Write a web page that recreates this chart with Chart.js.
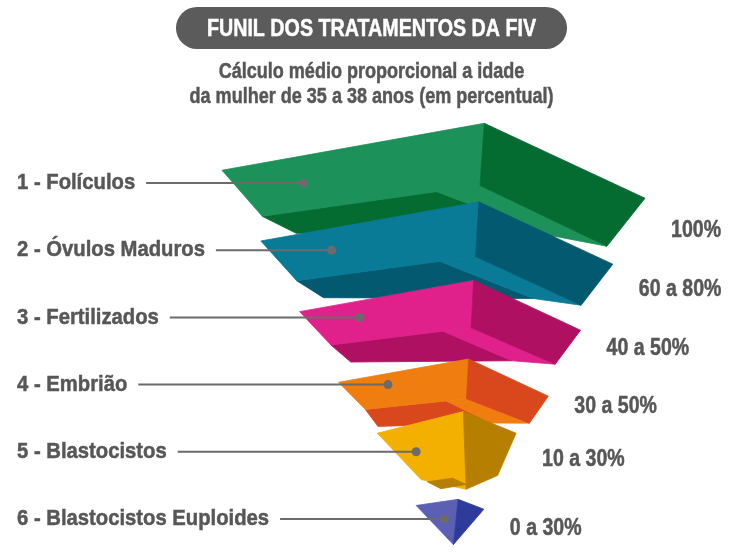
<!DOCTYPE html>
<html>
<head>
<meta charset="utf-8">
<script src="https://cdn.jsdelivr.net/npm/chart.js@4.4.1/dist/chart.umd.min.js"></script>
<style>
  html, body { margin: 0; padding: 0; background: #fff; }
  #wrap { width: 743px; height: 552px; }
</style>
</head>
<body>
<div id="wrap"><canvas id="funnelChart"></canvas></div>
<script>
// stages of the IVF funnel and the rate (in %) reached at each stage
const stages = ['1 - Folículos', '2 - Óvulos Maduros', '3 - Fertilizados', '4 - Embrião', '5 - Blastocistos', '6 - Blastocistos Euploides'];
const rateMin = [100, 60, 40, 30, 10, 0];
const rateMax = [100, 80, 50, 50, 30, 30];

const titleText = 'FUNIL DOS TRATAMENTOS DA FIV';
const subtitleLines = ['Cálculo médio proporcional a idade', 'da mulher de 35 a 38 anos (em percentual)'];

// styles
const lightColors = ['#1c9159', '#097b96', '#e0208b', '#f07d10', '#f4b000', '#5b60b4'];
const darkColors = ['#046b31', '#03596f', '#b01062', '#d9481c', '#b77f02', '#2e3b9c'];
const FONT = "'Liberation Sans', Arial, sans-serif";
const TEXT_GREY = '#575757';

// funnel shape: each tier narrower than the one above (not proportional to the rates)
const NARROW = 0.168;
const SKEW = 0.0156;
const funnelBars = stages.map((s, i) => {
    const half = 1 - NARROW * i;
    const mid = SKEW * i;
    return [mid - half, mid + half];
});

const rateLabels = rateMin.map((lo, i) => lo === rateMax[i] ? rateMax[i] + '%' : lo + ' a ' + rateMax[i] + '%');

function poly(ctx, pts, color) {
    ctx.beginPath();
    pts.forEach((p, j) => j ? ctx.lineTo(p[0], p[1]) : ctx.moveTo(p[0], p[1]));
    ctx.closePath();
    ctx.fillStyle = color;
    ctx.strokeStyle = color;
    ctx.lineWidth = 0.8;
    ctx.fill();
    ctx.stroke();
}

function lerp(a, b, t) {
    return [a[0] + (b[0] - a[0]) * t, a[1] + (b[1] - a[1]) * t];
}

// bold text squeezed horizontally (the original uses a condensed face), returns drawn width
function narrowText(ctx, text, x, y, size, squeeze, color, align) {
    ctx.save();
    ctx.font = 'bold ' + size + 'px ' + FONT;
    ctx.fillStyle = color;
    ctx.strokeStyle = color;
    ctx.lineWidth = 0.5;
    ctx.textAlign = align;
    ctx.textBaseline = 'middle';
    const w = ctx.measureText(text).width * squeeze;
    ctx.translate(x, y);
    ctx.scale(squeeze, 1);
    ctx.fillText(text, 0, 0);
    ctx.strokeText(text, 0, 0);
    ctx.restore();
    return w;
}

const headerText = {
    id: 'headerText',
    afterDraw(chart) {
        const ctx = chart.ctx;
        const cx = chart.width / 2;
        ctx.save();
        ctx.font = 'bold 24px ' + FONT;
        const w = ctx.measureText(titleText).width * 0.82 + 62;
        const h = 42;
        ctx.fillStyle = '#5b5b5b';
        ctx.beginPath();
        ctx.roundRect(cx - w / 2, 28 - h / 2, w, h, h / 2);
        ctx.fill();
        ctx.restore();
        narrowText(ctx, titleText, cx, 29, 24, 0.82, '#ffffff', 'center');
        subtitleLines.forEach((line, j) => narrowText(ctx, line, cx, 72 + j * 25, 22, 0.82, TEXT_GREY, 'center'));
    }
};

const funnel3d = {
    id: 'funnel3d',
    afterDatasetsDraw(chart) {
        const ctx = chart.ctx;
        const meta = chart.getDatasetMeta(0);
        const yScale = chart.scales.y;
        const last = meta.data.length - 1;
        ctx.save();

        meta.data.forEach((bar, i) => {
            const left = Math.min(bar.base, bar.x);
            const right = Math.max(bar.base, bar.x);
            const W = right - left;
            const light = lightColors[i], dark = darkColors[i];
            const ledge = i < last - 1;
            const k = ledge ? 0.16 * W - 8 : 0.29 * W;
            const B = [left + 0.62 * W, bar.y - k];
            let C, low;

            if (ledge) {
                const A = [left, B[1] + 0.111 * W];
                C = [right, B[1] + 0.177 * W];
                const B2 = [B[0] - 0.01 * W, B[1] + 0.105 * W + 17.7];
                const A2 = [B[0] - 0.557 * W + 13.6, B[1] + 0.2 * W + 8.4];
                const C2 = [B[0] + 0.29 * W, B[1] + 0.276 * W + 6.2];
                const m = lerp(A2, B2, 0.8);
                const bl = [B[0] - 0.457 * W + 5.3, B[1] + 0.2 * W + 25.4];
                const br = [B[0] + 0.224 * W - 24.7, B[1] + 0.229 * W + 16];
                poly(ctx, [A2, m, br, bl], dark);
                poly(ctx, [m, B2, C2, br], light);
                poly(ctx, [A, B, B2, A2], light);
                poly(ctx, [B, C, C2, B2], dark);
                low = C2;
            } else if (i < last) {
                const A = [left, B[1] + 0.156 * W];
                C = [right, B[1] + 0.156 * W];
                const Lb = [B[0] - 0.305 * W, B[1] + 0.49 * W];
                const Fb = [B[0] + 0.02 * W, B[1] + 0.56 * W];
                const Rb = [B[0] + 0.247 * W, B[1] + 0.46 * W];
                poly(ctx, [A, B, Fb, Lb], light);
                poly(ctx, [B, C, Rb, Fb], dark);
                poly(ctx, [
                    [B[0] - 0.26 * W, B[1] + 0.506 * W],
                    [B[0] - 0.078 * W, B[1] + 0.48 * W],
                    [B[0] + 0.02 * W, B[1] + 0.526 * W],
                    [B[0] - 0.162 * W, B[1] + 0.556 * W]
                ], dark);
                low = Rb;
            } else {
                const A = [left, B[1] + 0.09 * W];
                C = [right, B[1] + 0.145 * W];
                const apex = [B[0] - 0.07 * W, B[1] + 0.55 * W + 8];
                poly(ctx, [A, B, apex], light);
                poly(ctx, [B, C, apex], dark);
                low = apex;
            }

            // stage label from the category axis, leader line and dot on the tier
            const labelW = narrowText(ctx, yScale.getLabelForValue(i), 17, bar.y, 22.5, 0.9, TEXT_GREY, 'left');
            const dotX = left + 0.15 * W + 18;
            ctx.strokeStyle = '#6b6b6b';
            ctx.lineWidth = 2;
            ctx.beginPath();
            ctx.moveTo(17 + labelW + 11, bar.y);
            ctx.lineTo(dotX, bar.y);
            ctx.stroke();
            ctx.fillStyle = '#6b6b6b';
            ctx.beginPath();
            ctx.arc(dotX, bar.y, 4.5, 0, Math.PI * 2);
            ctx.fill();

            // rate label beside the right corner of the tier
            narrowText(ctx, rateLabels[i], C[0] + 26, low[1] - 16, 23, 0.85, TEXT_GREY, 'left');
        });
        ctx.restore();
    }
};

new Chart(document.getElementById('funnelChart'), {
    type: 'bar',
    data: {
        labels: stages,
        datasets: [{
            label: 'Funil',
            data: funnelBars,
            backgroundColor: 'rgba(0,0,0,0)',
            borderWidth: 0,
            clip: false
        }]
    },
    options: {
        indexAxis: 'y',
        responsive: true,
        maintainAspectRatio: false,
        animation: false,
        layout: {
            padding: { left: 280, right: 15, top: 183, bottom: 33 }
        },
        scales: {
            x: {
                type: 'linear',
                display: false,
                min: -0.7258,
                max: 1.3924
            },
            y: {
                type: 'category',
                display: false,
                offset: false
            }
        },
        plugins: {
            legend: { display: false },
            tooltip: { enabled: false }
        }
    },
    plugins: [funnel3d, headerText]
});
</script>
</body>
</html>
